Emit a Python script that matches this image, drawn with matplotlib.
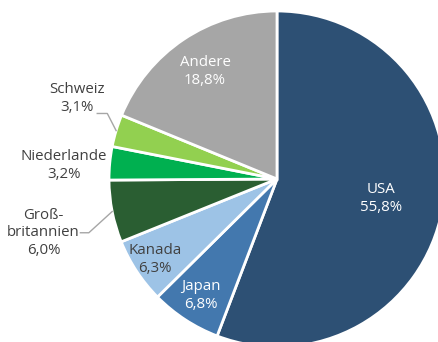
import numpy as np
import matplotlib.pyplot as plt

# Anteile nach Ländern (in %)
laender = ['USA', 'Japan', 'Kanada', 'Groß-\nbritannien', 'Niederlande', 'Schweiz', 'Andere']
anteile = [55.8, 6.8, 6.3, 6.0, 3.2, 3.1, 18.8]
farben = ['#2d5074', '#4378ae', '#9dc3e6', '#2a5e32', '#00b050', '#92d050', '#a6a6a6']

plt.rcParams['font.family'] = ['Open Sans', 'DejaVu Sans']

fig = plt.figure(figsize=(4.38, 3.42), dpi=100)
ax = fig.add_axes([0, 0, 1, 1])

wedges, _ = ax.pie(anteile, colors=farben, startangle=90, counterclock=False,
                   radius=1, wedgeprops=dict(edgecolor='white', linewidth=2))

# Beschriftung innen: Abstand vom Mittelpunkt je Segment
innen_r = {'USA': 0.63, 'Japan': 0.83, 'Kanada': 0.87, 'Andere': 0.77}
innen_farbe = {'USA': 'white', 'Japan': 'white', 'Kanada': '#404040', 'Andere': 'white'}

# Beschriftung außen: Textposition, ggf. mit Hilfslinie
aussen = {
    'Groß-\nbritannien': (-1.39, -0.32, True),
    'Niederlande': (-1.27, 0.08, False),
    'Schweiz': (-1.19, 0.48, True),
}

for w, name, wert in zip(wedges, laender, anteile):
    mitte = np.deg2rad((w.theta1 + w.theta2) / 2)
    text = f'{name}\n{wert:.1f}%'.replace('.', ',')
    if name in innen_r:
        r = innen_r[name]
        ax.text(r * np.cos(mitte), r * np.sin(mitte), text, ha='center', va='center',
                color=innen_farbe[name], fontsize=10.8, linespacing=1.25)
    else:
        tx, ty, linie = aussen[name]
        ax.text(tx, ty, text, ha='center', va='center', color='#404040',
                fontsize=10.8, linespacing=1.25)
        if linie:
            ex, ey = np.cos(mitte), np.sin(mitte)
            if name == 'Schweiz':
                ly = 0.39
                pts = [(-1.07, ly), (-1.01, ly), (ex, ey)]
            else:
                ly = -0.32
                pts = [(-1.17, ly), (-1.12, ly), (ex, ey)]
            xs, ys = zip(*pts)
            ax.plot(xs, ys, color='#a6a6a6', linewidth=1)

ax.set_xlim(-277 / 168, 161 / 168)
ax.set_ylim(-163 / 168, 179 / 168)
ax.set_aspect('equal')
ax.axis('off')

fig.savefig('out.png', dpi=100)
